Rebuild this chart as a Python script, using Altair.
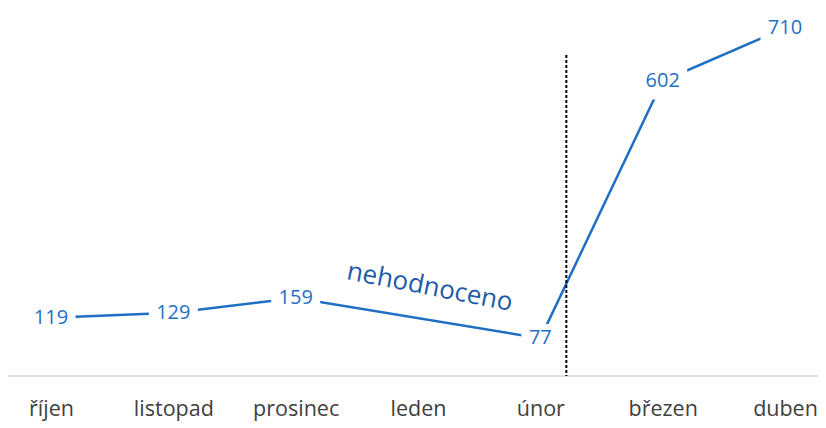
import altair as alt
import pandas as pd

months = ["říjen", "listopad", "prosinec", "leden", "únor", "březen", "duben"]
values = [119, 129, 159, None, 77, 602, 710]

BLUE = "#1f6fc5"
FONT = "Open Sans"

rows = [
    {"month": m, "value": v, "label": str(v), "box": (len(str(v)) * 11 + 16) ** 2}
    for m, v in zip(months, values) if v is not None
]
df = pd.DataFrame(rows)

x_scale = alt.Scale(type="point", domain=months, range=[43, 777], padding=0)
x_enc = alt.X("month:N", sort=months, scale=x_scale,
              axis=alt.Axis(title=None, ticks=False, grid=False, labelAngle=0,
                            labelFont=FONT, labelFontSize=21.5, labelColor="#404040",
                            labelPadding=22, domain=False))
y_scale = alt.Scale(domain=[0, 751], nice=False, zero=True)
y_enc = alt.Y("value:Q", scale=y_scale, axis=None)

base = alt.Chart(df).encode(x=x_enc, y=y_enc)

baseline = alt.Chart(pd.DataFrame({"v": [0]})).mark_rule(
    color="#d4d4d4", strokeWidth=1.5).encode(
    x=alt.value(0), x2=alt.value(810), y=alt.Y("v:Q", scale=y_scale, axis=None))

line = base.mark_line(color=BLUE, strokeWidth=2.5)

boxes = base.mark_point(
    shape="M-1,-0.75L1,-0.75L1,0.75L-1,0.75Z", filled=True, fill="white",
    opacity=1, strokeWidth=0
).encode(size=alt.Size("box:Q", scale=None, legend=None))

labels = base.mark_text(font=FONT, fontSize=20, color=BLUE, baseline="middle",
                        align="center").encode(text="label:N")

note = pd.DataFrame({"month": ["leden"], "value": [186], "text": ["nehodnoceno"]})
note_mark = alt.Chart(note).mark_text(font=FONT, fontSize=26, color="#1d5aa8",
                                      angle=11, dx=12, align="center",
                                      baseline="middle").encode(
    x=alt.X("month:N", sort=months, scale=x_scale),
    y=alt.Y("value:Q", scale=y_scale, axis=None),
    text="text:N")

divider = pd.DataFrame({"month": ["únor"], "top": [655], "bottom": [0]})
rule = alt.Chart(divider).mark_rule(color="black", strokeWidth=2, strokeDash=[3, 2],
                                    xOffset=26).encode(
    x=alt.X("month:N", sort=months, scale=x_scale),
    y=alt.Y("top:Q", scale=y_scale, axis=None),
    y2="bottom:Q")

chart = alt.layer(baseline, line, rule, boxes, labels, note_mark).properties(
    width=810, height=368,
    autosize=alt.AutoSizeParams(type="none"),
    padding={"left": 0, "top": 0, "right": 0, "bottom": 52},
).configure_view(stroke=None)

chart.save("out.html", embed_options={"renderer": "svg", "actions": False})
